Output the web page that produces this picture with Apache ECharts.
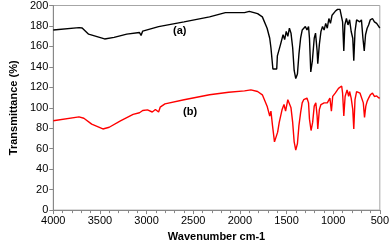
<!DOCTYPE html>
<html>
<head>
<meta charset="utf-8">
<script src="https://cdn.jsdelivr.net/npm/echarts@6/dist/echarts.min.js"></script>
<style>
html,body{margin:0;padding:0;background:#fff;}
#chart{width:392px;height:247px;}
</style>
</head>
<body>
<div id="chart"></div>
<script>
// Wavenumbers (cm-1) and transmittance (%)
const wavenumbersA = [4000,3724,3690,3621,3450,3348,3212,3076,3059,3041,2871,2598,2325,2155,1950,1899,1810,1759,1708,1680,1667,1646,1633,1605,1598,1578,1564,1537,1520,1503,1486,1469,1452,1434,1418,1401,1383,1367,1349,1332,1316,1298,1281,1264,1254,1240,1223,1203,1189,1172,1165,1148,1131,1114,1097,1080,1063,1046,1029,1012,994,978,953,927,899,886,875,858,841,824,807,790,779,766,749,732,715,697,681,667,653,636,620,602,579,558,534,510,500];
const transA = [176,178.4,178,172,167.3,168.9,172,173.6,170.8,175,179.4,184,188.9,193,193,194.3,192,188.9,177.8,168,158.7,138,136.5,138,150.8,152,162,171.4,166.7,174.6,169.8,177.8,173,158.7,136.5,128.6,133,152.4,168,176,177.8,179.4,176,179.4,168,135,146,168,173,155.5,143,162,174.6,179.4,176,182.5,177.8,187.3,182.5,190.5,192,194.3,196.2,196.2,184,155.5,181,187.3,181,186,174.6,168,146,174.6,186,187.3,184,186,168,155.5,171.4,177.8,181,186,187.3,184,182.5,179.4,178];
const wavenumbersB = [4000,3724,3672,3588,3468,3400,3280,3144,3076,3058,3041,2990,2939,2905,2871,2854,2803,2598,2325,2120,1950,1882,1810,1759,1708,1680,1667,1650,1629,1612,1595,1578,1564,1547,1527,1510,1486,1469,1452,1434,1418,1401,1383,1367,1349,1332,1316,1298,1281,1264,1254,1237,1220,1203,1186,1172,1165,1148,1131,1114,1097,1080,1063,1035,1019,1005,978,943,909,899,886,872,851,834,824,807,790,779,766,749,728,712,694,677,664,650,636,620,602,579,558,534,510,500];
const transB = [87.3,91.1,89.8,84.1,79.3,81,87.3,93.6,95.2,93.6,97.4,98,95.9,98.4,95.9,100.6,103.8,107.9,112.7,115.2,116.5,117.5,115.9,112.7,101.6,92,96.8,82.6,66.7,68,76.2,85.7,84,98.4,103.2,96.8,107.9,106.3,100,85.7,66.7,58.7,65,82.6,95.2,104.8,107.9,106.3,109.5,104.8,88.9,77.8,85.7,101.6,104.8,92,79.3,98.4,103.2,101.6,104.8,103.2,104.8,109.5,96.8,111.1,114.3,119,121.3,114.3,92,111.1,117.5,111.1,115.9,109.5,98.4,79.3,108,115.9,117.5,114.3,115.9,104.8,90.5,101.6,106.3,109.5,112.7,114.3,111.1,111.6,109.5,110];
const xTicks = {min: 500, max: 4000, step: 500};
const yTicks = {min: 0, max: 200, step: 20};
const seriesLabels = ['(a)', '(b)'];

const pairs = (xs, ys) => xs.map((x, i) => [x, ys[i]]);
const chart = echarts.init(document.getElementById('chart'), null, {renderer: 'canvas'});
const font = '"Liberation Sans", Arial, sans-serif';
chart.setOption({
  animation: false,
  backgroundColor: '#fff',
  grid: {left: 41, right: 9, top: 5, bottom: 32, show: true, borderColor: '#a6a6a6', borderWidth: 1},
  xAxis: {
    type: 'value', inverse: true, min: xTicks.min, max: xTicks.max, interval: xTicks.step,
    name: 'Wavenumber cm-1', nameLocation: 'middle', nameGap: 19,
    nameTextStyle: {fontFamily: font, fontWeight: 'bold', fontSize: 11, color: '#000'},
    axisLine: {lineStyle: {color: '#888', width: 1}},
    axisTick: {show: true, length: 4, lineStyle: {color: '#888'}},
    minorTick: {show: true, splitNumber: 5, length: 3, lineStyle: {color: '#888'}},
    splitLine: {show: false},
    axisLabel: {fontFamily: font, fontSize: 11, color: '#000', margin: 5, formatter: v => String(v)}
  },
  yAxis: {
    type: 'value', min: yTicks.min, max: yTicks.max, interval: yTicks.step,
    name: 'Transmittance (%)', nameLocation: 'middle', nameGap: 27,
    nameTextStyle: {fontFamily: font, fontWeight: 'bold', fontSize: 11, color: '#000'},
    axisLine: {show: true, lineStyle: {color: '#888', width: 1}},
    axisTick: {show: true, length: 4, lineStyle: {color: '#888'}},
    splitLine: {show: false},
    axisLabel: {fontFamily: font, fontSize: 11, color: '#000', margin: 5, formatter: v => String(v)}
  },
  series: [
    {type: 'line', data: pairs(wavenumbersA, transA), showSymbol: false, symbol: 'none',
     lineStyle: {color: '#000', width: 1.4}, z: 3},
    {type: 'line', data: pairs(wavenumbersB, transB), showSymbol: false, symbol: 'none',
     lineStyle: {color: '#ff0000', width: 1.4}, z: 2}
  ],
  graphic: [
    {type: 'text', left: 173, top: 25, style: {text: seriesLabels[0], font: 'bold 11px ' + font, fill: '#000'}},
    {type: 'text', left: 183, top: 106, style: {text: seriesLabels[1], font: 'bold 11px ' + font, fill: '#000'}}
  ]
});
</script>
</body>
</html>
